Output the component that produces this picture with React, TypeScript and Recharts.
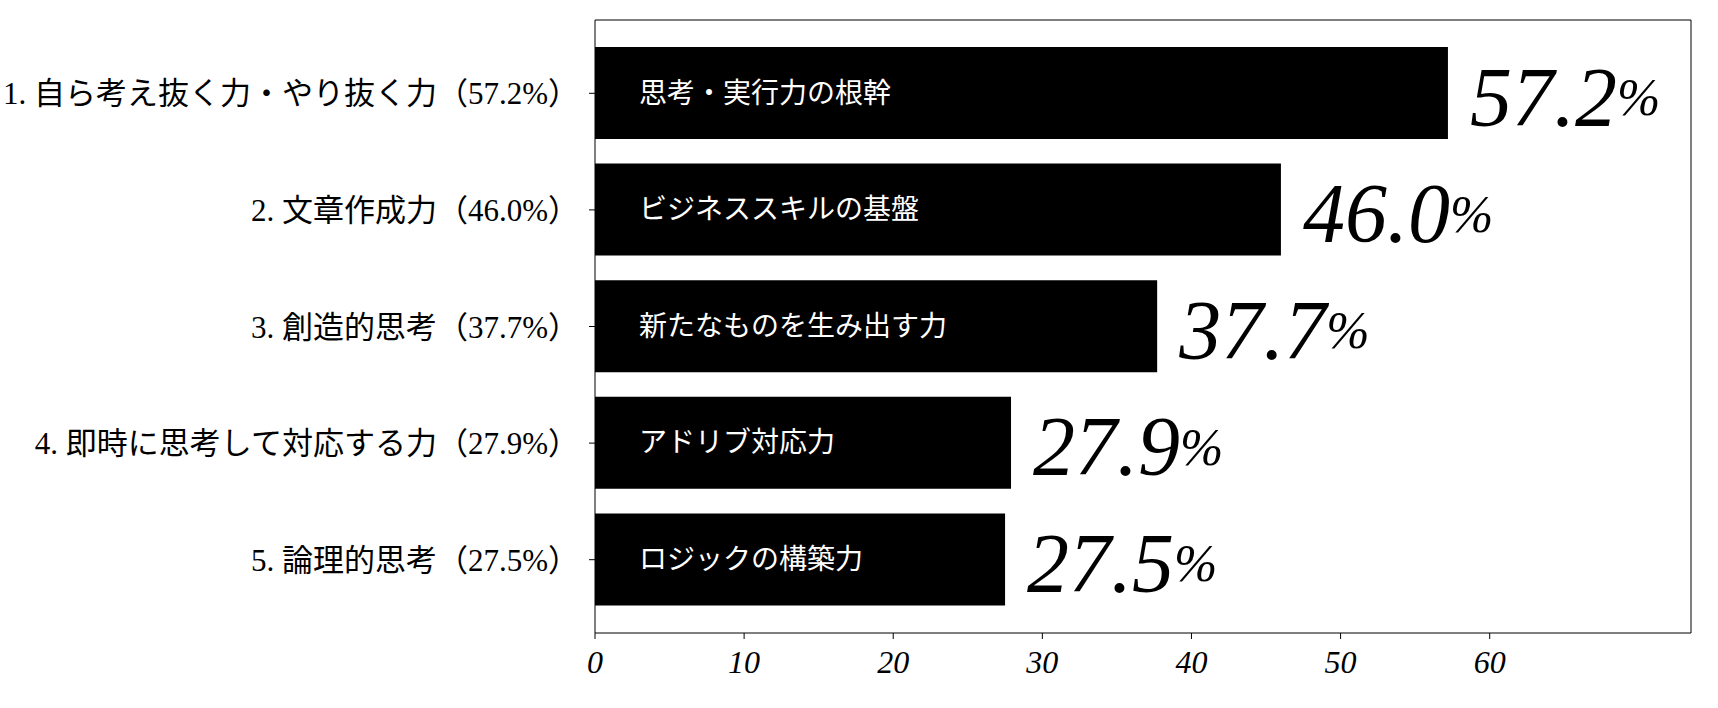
import { BarChart, Bar, XAxis, YAxis, LabelList } from "recharts";

const categories = [
  "1. 自ら考え抜く力・やり抜く力（57.2%）",
  "2. 文章作成力（46.0%）",
  "3. 創造的思考（37.7%）",
  "4. 即時に思考して対応する力（27.9%）",
  "5. 論理的思考（27.5%）",
];
const values = [57.2, 46.0, 37.7, 27.9, 27.5];
const descriptions = [
  "思考・実行力の根幹",
  "ビジネススキルの基盤",
  "新たなものを生み出す力",
  "アドリブ対応力",
  "ロジックの構築力",
];
const xTicks = [0, 10, 20, 30, 40, 50, 60];
const xMax = 73.5;

const data = categories.map((name, i) => ({ name, value: values[i], desc: descriptions[i] }));

const LABEL_FONT = "'Liberation Serif', 'Noto Sans CJK JP', serif";
const NUM_FONT = "'Liberation Serif', 'DejaVu Serif', serif";

function InsideLabel(props: any) {
  const { x, y, height, index } = props;
  return (
    <text
      x={x + 44}
      y={y + height / 2}
      fill="#fff"
      fontSize={28}
      fontFamily={LABEL_FONT}
      dominantBaseline="central"
    >
      {descriptions[index]}
    </text>
  );
}

function ValueLabel(props: any) {
  const { x, y, width, height, index } = props;
  return (
    <text
      x={x + width + 22}
      y={y + height / 2 + 4}
      fill="#000"
      fontSize={84}
      fontStyle="italic"
      fontFamily={NUM_FONT}
      dominantBaseline="central"
    >
      {values[index].toFixed(1)}
      <tspan fontSize={52}>%</tspan>
    </text>
  );
}

export default function App() {
  return (
    <div style={{ position: "absolute", left: 0, top: 0, width: 1718, height: 708, background: "#fff" }}>
      <BarChart
        width={1718}
        height={708}
        data={data}
        layout="vertical"
        margin={{ top: 19, right: 26, bottom: 0, left: 0 }}
      >
        <XAxis
          type="number"
          domain={[0, xMax]}
          ticks={xTicks}
          height={75}
          tickSize={6}
          tickMargin={11}
          axisLine={{ stroke: "#000" }}
          tickLine={{ stroke: "#000" }}
          tick={{ fill: "#000", fontSize: 32, fontStyle: "italic", fontFamily: NUM_FONT }}
        />
        <XAxis
          xAxisId="top"
          orientation="top"
          type="number"
          domain={[0, xMax]}
          height={1}
          tick={false}
          tickLine={false}
          axisLine={{ stroke: "#000" }}
        />
        <YAxis
          type="category"
          dataKey="name"
          width={595}
          padding={{ top: 15, bottom: 15 }}
          tickSize={6}
          tickMargin={10}
          axisLine={{ stroke: "#000" }}
          tickLine={{ stroke: "#000" }}
          tick={{ fill: "#000", fontSize: 31, fontFamily: LABEL_FONT }}
        />
        <YAxis
          yAxisId="right"
          orientation="right"
          type="category"
          dataKey="name"
          width={1}
          tick={false}
          tickLine={false}
          axisLine={{ stroke: "#000" }}
        />
        <Bar dataKey="value" fill="#000" barSize={92} isAnimationActive={false}>
          <LabelList dataKey="value" content={InsideLabel} />
          <LabelList dataKey="value" content={ValueLabel} />
        </Bar>
      </BarChart>
    </div>
  );
}
